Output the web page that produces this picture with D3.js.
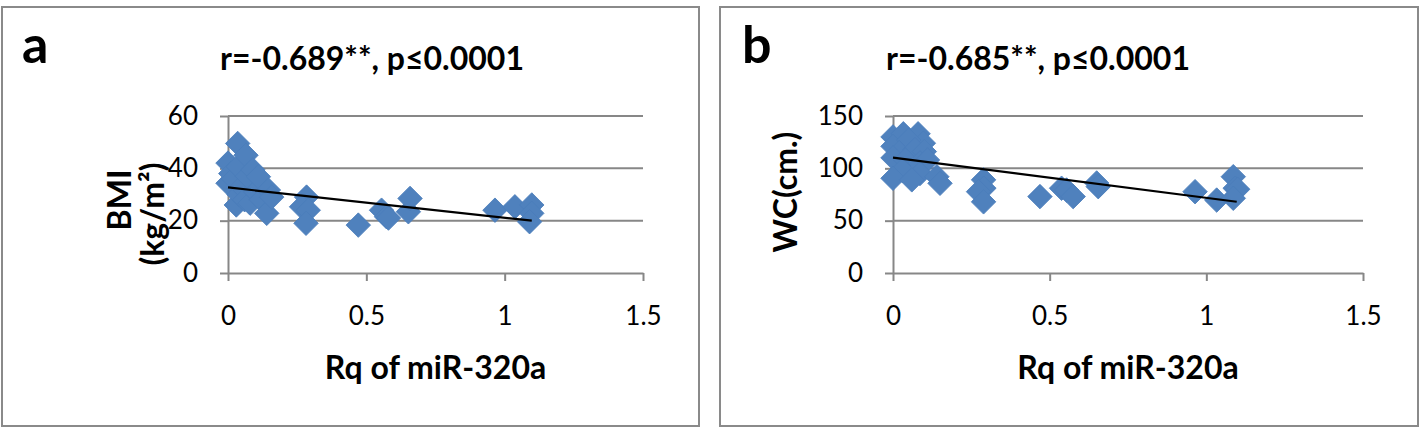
<!DOCTYPE html>
<html><head><meta charset="utf-8">
<script src="https://cdn.jsdelivr.net/npm/d3@7"></script>
<style>
html,body{margin:0;padding:0;background:#fff;}
svg{display:block;font-family:Lato,"Open Sans",sans-serif;}
</style></head>
<body>
<svg id="c" width="1424" height="428"></svg>
<script>
// ---------- data ----------
const xTicks = [0, 0.5, 1, 1.5];
const bmiTicks = [0, 20, 40, 60];
const wcTicks = [0, 50, 100, 150];
const xLabel = "Rq of miR-320a";
const panelLetters = ["a", "b"];
const titles = ["r=-0.689**, p\u22640.0001", "r=-0.685**, p\u22640.0001"];
const yLabelA = ["BMI", "(kg/m\u00B2)"];
const yLabelB = ["WC(cm.)"];

// panel a: Rq vs BMI
const rqA  = [0.0, 0.0, 0.01, 0.02, 0.03, 0.035, 0.037, 0.04, 0.05, 0.06, 0.065, 0.07, 0.08, 0.09, 0.1, 0.11, 0.12, 0.14, 0.146, 0.158,
              0.284, 0.266, 0.29, 0.282, 0.471, 0.555, 0.573, 0.58, 0.652, 0.658, 0.965, 1.037, 1.098, 1.098, 1.09];
const bmi  = [42, 34.3, 38, 36, 26, 49.5, 40.6, 30, 33, 28, 45, 37, 26.7, 39.4, 31, 36.8, 28, 22.8, 31.7, 29,
              29, 25.3, 24, 19, 18.3, 24, 21.5, 21, 23.4, 28.5, 24, 25.3, 26, 22.8, 19.6];
const trendAx = [0, 1.098];
const trendAy = [32.7, 20.0];

// panel b: Rq vs WC
const rqB  = [0.0, 0.033, 0.08, 0.0, 0.097, 0.05, 0.02, 0.07, 0.1, 0.0, 0.04, 0.086, 0.11, 0.03, 0.086, 0.0, 0.06, 0.14, 0.15,
              0.289, 0.29, 0.273, 0.289, 0.469, 0.538, 0.554, 0.575, 0.65, 0.655, 0.964, 1.033, 1.086, 1.092, 1.1, 1.086];
const wc   = [130, 133, 133, 121, 124, 127, 115, 118, 116, 110, 108, 105, 108, 98, 95, 90.5, 89, 92, 85.7,
              89, 81, 77.7, 68, 73, 81, 79.3, 73, 86, 82.5, 77.7, 69.7, 92, 81, 80, 71.4];
const trendBx = [0, 1.097];
const trendBy = [110.2, 68.1];

// ---------- layout ----------
const panels = [
  {box:[2,7,697,419], plot:[228,643,116,273], yDomain:[0,60], yTicks:bmiTicks, xs:rqA, ys:bmi, tx:trendAx, ty:trendAy,
   letter:panelLetters[0], letterX:22, title:titles[0], titleX:372, yLabel:yLabelA, yLabelX:[131,164], yLabelY:[200,214]},
  {box:[720,7,698,419], plot:[893,1363,116,273], yDomain:[0,150], yTicks:wcTicks, xs:rqB, ys:wc, tx:trendBx, ty:trendBy,
   letter:panelLetters[1], letterX:742, title:titles[1], titleX:1038, yLabel:yLabelB, yLabelX:[797], yLabelY:[192]}
];
const grid = "#878787", blue = "#4F81BD";
const svg = d3.select("#c");

panels.forEach(p => {
  const g = svg.append("g");
  g.append("rect").attr("x",p.box[0]).attr("y",p.box[1]).attr("width",p.box[2]).attr("height",p.box[3])
    .attr("fill","#fff").attr("stroke","#8a8a8a").attr("stroke-width",2);

  const x = d3.scaleLinear().domain([0,1.5]).range([p.plot[0],p.plot[1]]);
  const y = d3.scaleLinear().domain(p.yDomain).range([p.plot[3],p.plot[2]]);

  // gridlines
  g.append("g").selectAll("line").data(p.yTicks.filter(v=>v>0)).join("line")
    .attr("x1",x(0)).attr("x2",x(1.5)).attr("y1",d=>y(d)).attr("y2",d=>y(d))
    .attr("stroke",grid).attr("stroke-width",2);

  // axes
  const ya = g.append("g").attr("transform",`translate(${x(0)},0)`)
    .call(d3.axisLeft(y).tickValues(p.yTicks).tickSize(8).tickSizeOuter(0).tickPadding(22).tickFormat(d3.format("d")));
  const xa = g.append("g").attr("transform",`translate(0,${y(0)})`)
    .call(d3.axisBottom(x).tickValues(xTicks).tickSize(8).tickSizeOuter(0).tickPadding(26).tickFormat(d=>String(d)));
  [ya,xa].forEach(a=>{
    a.select(".domain").attr("stroke",grid).attr("stroke-width",2);
    a.selectAll(".tick line").attr("stroke",grid).attr("stroke-width",2);
    a.selectAll(".tick text").attr("fill","#000").style("font-size","26px").style("font-family","Lato");
  });

  // points
  const sym = d3.symbol().type(d3.symbolSquare).size(300);
  g.append("g").selectAll("path").data(p.xs.map((v,i)=>[v,p.ys[i]])).join("path")
    .attr("d",sym).attr("transform",d=>`translate(${x(d[0])},${y(d[1])}) rotate(45)`)
    .attr("fill",blue).attr("stroke","#4a7dba").attr("stroke-width",0.8);

  // trend line
  g.append("path").datum(p.tx.map((v,i)=>[v,p.ty[i]]))
    .attr("d",d3.line().x(d=>x(d[0])).y(d=>y(d[1])))
    .attr("stroke","#000").attr("stroke-width",2.2).attr("fill","none");

  // texts
  g.append("text").attr("x",p.letterX).attr("y",63).text(p.letter)
    .style("font-size","52px").style("font-weight","700");
  g.append("text").attr("x",p.titleX).attr("y",70).attr("text-anchor","middle").text(p.title)
    .style("font-size","32px").style("font-weight","700");
  g.append("text").attr("x",(p.plot[0]+p.plot[1])/2).attr("y",379).attr("text-anchor","middle").text(xLabel)
    .style("font-size","32px").style("font-weight","700");
  p.yLabel.forEach((t,i)=>{
    g.append("text").attr("transform",`translate(${p.yLabelX[i]},${p.yLabelY[i]}) rotate(-90)`)
      .attr("text-anchor","middle").text(t).style("font-size","32px").style("font-weight","700");
  });
});
</script>
</body></html>
